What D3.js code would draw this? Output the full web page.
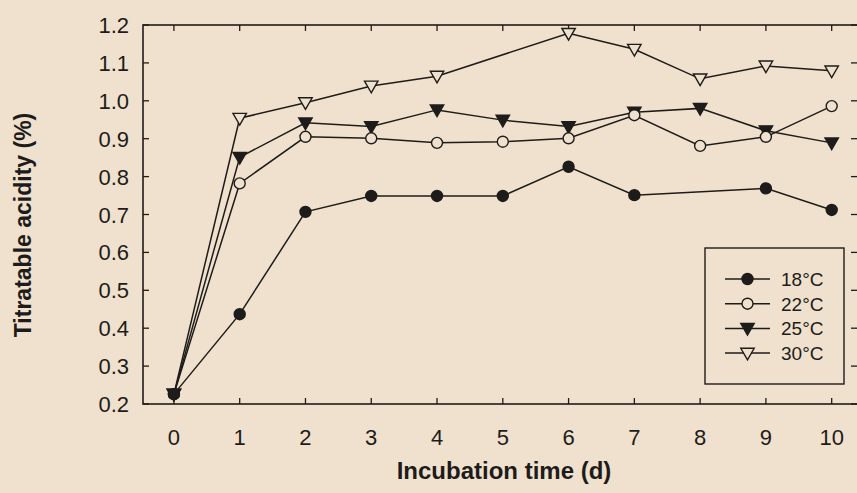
<!DOCTYPE html>
<html>
<head>
<meta charset="utf-8">
<script src="https://cdn.jsdelivr.net/npm/d3@7"></script>
<style>
  body { margin: 0; background: #efe1cd; }
  svg { display: block; }
</style>
</head>
<body>
<div id="chart"></div>
<script>
// Titratable acidity over incubation time, four temperatures
const days = [0, 1, 2, 3, 4, 5, 6, 7, 8, 9, 10];
const yTicks = [0.2, 0.3, 0.4, 0.5, 0.6, 0.7, 0.8, 0.9, 1.0, 1.1, 1.2];

// null = no measurement (18°C has no day 8 point, 30°C none on day 5)
const t18 = [0.226, 0.437, 0.707, 0.749, 0.749, 0.749, 0.826, 0.751, null, 0.769, 0.712];
const t22 = [0.226, 0.782, 0.905, 0.901, 0.889, 0.892, 0.901, 0.962, 0.881, 0.905, 0.986];
const t25 = [0.226, 0.851, 0.942, 0.932, 0.976, 0.949, 0.932, 0.970, 0.980, 0.921, 0.889];
const t30 = [0.226, 0.954, 0.995, 1.039, 1.065, null, 1.178, 1.136, 1.058, 1.092, 1.079];

const series = [
  { label: "18°C", values: t18, shape: "circle", fill: true },
  { label: "22°C", values: t22, shape: "circle", fill: false },
  { label: "25°C", values: t25, shape: "tri", fill: true },
  { label: "30°C", values: t30, shape: "tri", fill: false },
];

const width = 857, height = 493;
const plot = { left: 143, right: 858, top: 25, bottom: 404 };
const ink = "#1e1c1a";
const bg = "#efe1cd";

const svg = d3.select("#chart").append("svg")
  .attr("width", width)
  .attr("height", height);

const x = d3.scaleLinear().domain([-0.47, 10.4]).range([plot.left, plot.right]);
const y = d3.scaleLinear().domain([0.2, 1.2]).range([plot.bottom, plot.top]);

const tickLen = 6;

// frame
svg.append("rect")
  .attr("x", plot.left).attr("y", plot.top)
  .attr("width", plot.right - plot.left).attr("height", plot.bottom - plot.top)
  .attr("fill", "none").attr("stroke", ink).attr("stroke-width", 1.6);

// inward ticks
const tickG = svg.append("g").attr("stroke", ink).attr("stroke-width", 1.3);
days.forEach(d => {
  tickG.append("line").attr("x1", x(d)).attr("x2", x(d))
    .attr("y1", plot.bottom).attr("y2", plot.bottom - tickLen);
  tickG.append("line").attr("x1", x(d)).attr("x2", x(d))
    .attr("y1", plot.top).attr("y2", plot.top + tickLen);
});
yTicks.forEach(v => {
  tickG.append("line").attr("x1", plot.left).attr("x2", plot.left + tickLen)
    .attr("y1", y(v)).attr("y2", y(v));
  tickG.append("line").attr("x1", 857).attr("x2", 857 - tickLen)
    .attr("y1", y(v)).attr("y2", y(v));
});

// tick labels
const font = "Liberation Sans, Arial, sans-serif";
svg.append("g").selectAll("text").data(days).enter().append("text")
  .attr("x", d => x(d)).attr("y", 445)
  .attr("text-anchor", "middle")
  .attr("font-family", font).attr("font-size", 22).attr("fill", ink)
  .text(d => d);

svg.append("g").selectAll("text").data(yTicks).enter().append("text")
  .attr("x", 129).attr("y", d => y(d) + 8)
  .attr("text-anchor", "end")
  .attr("font-family", font).attr("font-size", 22).attr("fill", ink)
  .text(d => d.toFixed(1));

// axis titles
svg.append("text")
  .attr("x", 504).attr("y", 479)
  .attr("text-anchor", "middle")
  .attr("font-family", font).attr("font-size", 24).attr("font-weight", "bold")
  .attr("fill", ink)
  .text("Incubation time (d)");

svg.append("text")
  .attr("transform", "translate(31,225) rotate(-90)")
  .attr("text-anchor", "middle")
  .attr("font-family", font).attr("font-size", 23).attr("font-weight", "bold")
  .attr("fill", ink)
  .text("Titratable acidity (%)");

// markers
const triDown = d3.symbol().type(d3.symbolTriangle).size(78);
function drawMarker(g, s, cx, cy) {
  if (s.shape === "circle") {
    g.append("circle").attr("cx", cx).attr("cy", cy).attr("r", 5.5)
      .attr("fill", s.fill ? ink : bg).attr("stroke", ink).attr("stroke-width", 1.4);
  } else {
    g.append("path").attr("d", triDown())
      .attr("transform", `translate(${cx},${cy - 1}) rotate(180)`)
      .attr("fill", s.fill ? ink : bg).attr("stroke", ink).attr("stroke-width", 1.4);
  }
}

const line = d3.line()
  .x(d => x(d[0]))
  .y(d => y(d[1]));

const dataG = svg.append("g");
series.forEach(s => {
  const pts = days.map((d, i) => [d, s.values[i]]).filter(p => p[1] !== null);
  dataG.append("path").datum(pts)
    .attr("d", line).attr("fill", "none")
    .attr("stroke", ink).attr("stroke-width", 1.5);
});
series.slice().reverse().forEach(s => {
  days.forEach((d, i) => {
    if (s.values[i] !== null) drawMarker(dataG, s, x(d), y(s.values[i]));
  });
});

// legend
const lg = svg.append("g");
lg.append("rect")
  .attr("x", 705).attr("y", 248).attr("width", 139).attr("height", 136)
  .attr("fill", bg).attr("stroke", ink).attr("stroke-width", 1.4);
series.forEach((s, i) => {
  const ry = 279 + i * 24.7;
  lg.append("line").attr("x1", 725).attr("x2", 770).attr("y1", ry).attr("y2", ry)
    .attr("stroke", ink).attr("stroke-width", 1.5);
  drawMarker(lg, s, 747.5, ry);
  lg.append("text").attr("x", 781).attr("y", ry + 7)
    .attr("font-family", font).attr("font-size", 19).attr("fill", ink)
    .text(s.label);
});
</script>
</body>
</html>
